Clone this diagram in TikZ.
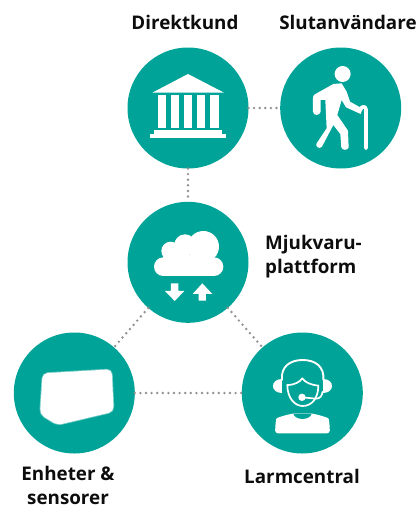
\documentclass[tikz,border=0pt]{standalone}
\usepackage{fontspec}
\setmainfont{Open Sans}
\definecolor{teal1}{RGB}{0,163,152}
\definecolor{dotgray}{RGB}{145,145,145}
\tikzset{
  hub/.style={circle,fill=teal1,minimum size=121pt,inner sep=0pt,outer sep=0pt},
  link/.style={draw=dotgray,line width=2.7pt,line cap=round,dash pattern=on 0pt off 5.6pt},
  lab/.style={font=\fontsize{18.8}{24}\selectfont\bfseries,text=black!95,inner sep=0pt},
  ico/.style={fill=white,draw=none},
  icoline/.style={draw=white,line cap=round,line join=round,fill=none}
}
\begin{document}
\begin{tikzpicture}[x=1pt,y=-1pt]
\useasboundingbox (0,0) rectangle (417,507);
\node[hub] (dk) at (188,108) {};
\node[hub] (su) at (340.7,108) {};
\node[hub] (mj) at (188,262.3) {};
\node[hub] (en) at (74.3,393) {};
\node[hub] (la) at (302.3,393) {};
\draw[link] (dk) -- (su);
\draw[link] (dk) -- (mj);
\draw[link] (mj) -- (en);
\draw[link] (mj) -- (la);
\draw[link] (en) -- (la);
\node[lab,anchor=base] (tdk) at (185,29.5) {Direktkund};
\node[lab,anchor=base] (tsu) at (348,29.5) {Slutanvändare};
\node[lab,anchor=base west,align=left] (tmj) at (265,273) {Mjukvaru-\\plattform};
\node[lab,anchor=base,align=center,text depth=0pt] (ten) at (68,504.5) {Enheter \&\\sensorer};
\node[lab,anchor=base] (tla) at (302,483) {Larmcentral};
% bank
\begin{scope}[shift={(120,0)},x=0.3333pt,y=-0.3333pt]
\fill[ico] (97,278) -- (204,222) -- (312,278) -- cycle;
\foreach \a in {113,152,192,231,271} \fill[ico] (\a,285) rectangle ++(25,100);
\fill[ico] (102,390) rectangle (306,402);
\fill[ico] (90,402) rectangle (318,414);
% walker
\fill[ico] (668,222) circle (24);
\fill[ico] (640,252) -- (665,250) -- (680,275) -- (690,305) -- (728,326) -- (722,342) -- (678,322) -- (665,300) -- (652,345)
  -- (684,392) -- (686,442) .. controls (684,452) and (666,452) .. (664,442) -- (661,402) -- (640,375) -- (606,440) .. controls (598,450) and (584,438) .. (590,430) -- (620,385) -- (616,300) -- (602,300) -- (602,335)
  .. controls (600,348) and (580,348) .. (579,335) -- (579,295) .. controls (579,285) and (585,282) .. (590,280) -- cycle;
\draw[icoline,line width=3.6pt] (738,445) -- (738,328) .. controls (738,318) and (724,318) .. (722,328);
\end{scope}
% cloud
\begin{scope}[shift={(120,195)},x=0.3333pt,y=-0.3333pt]
\fill[ico] (130,215) circle (28);
\fill[ico] (152,168) circle (28);
\fill[ico] (195,150) circle (32);
\fill[ico] (250,155) circle (47);
\fill[ico] (282,215) circle (28);
\fill[ico] (130,243) -- (282,243) -- (282,190) -- (130,170) -- cycle;
\fill[ico] (153,265) -- (175,265) -- (175,288) -- (193,288) -- (164,318) -- (135,288) -- (153,288) -- cycle;
\fill[ico] (236,317) -- (258,317) -- (258,297) -- (277,297) -- (247,265) -- (218,297) -- (236,297) -- cycle;
\end{scope}
% device
\begin{scope}[shift={(0,320)},x=0.3333pt,y=-0.3333pt]
\draw[fill=white,draw=white,draw opacity=.45,line width=1.6pt,rounded corners=5pt] (128,160) -- (335,148) -- (341,275) -- (172,315) -- (120,283) -- cycle;
\end{scope}
% operator
\begin{scope}[shift={(230,320)},x=0.3333pt,y=-0.3333pt]
\fill[ico] (155,176) .. controls (120,176) and (120,218) .. (155,218) -- cycle;
\fill[ico] (280,176) .. controls (315,176) and (315,218) .. (280,218) -- cycle;
\draw[icoline,line width=1.9pt] (156,180) .. controls (152,140) and (180,120) .. (218,120) .. controls (256,120) and (284,140) .. (280,180);
\draw[icoline,line width=1.7pt] (172,195) .. controls (195,195) and (210,185) .. (217,175) .. controls (225,188) and (245,195) .. (265,197);
\draw[icoline,line width=1.7pt] (172,195) .. controls (172,235) and (195,258) .. (218,258) .. controls (245,258) and (265,235) .. (265,197);
\fill[ico] (216,232) circle (11);
\draw[icoline,line width=1.7pt] (216,232) -- (258,236) .. controls (270,236) and (276,228) .. (278,215);
\fill[ico,rounded corners=3pt] (135,340) -- (137,305) .. controls (140,292) and (170,285) .. (190,280) -- (245,280) .. controls (265,285) and (295,292) .. (298,305) -- (300,340) -- cycle;
\fill[teal1] (190,281) .. controls (195,302) and (240,302) .. (245,281) -- cycle;
\end{scope}
\end{tikzpicture}
\end{document}
